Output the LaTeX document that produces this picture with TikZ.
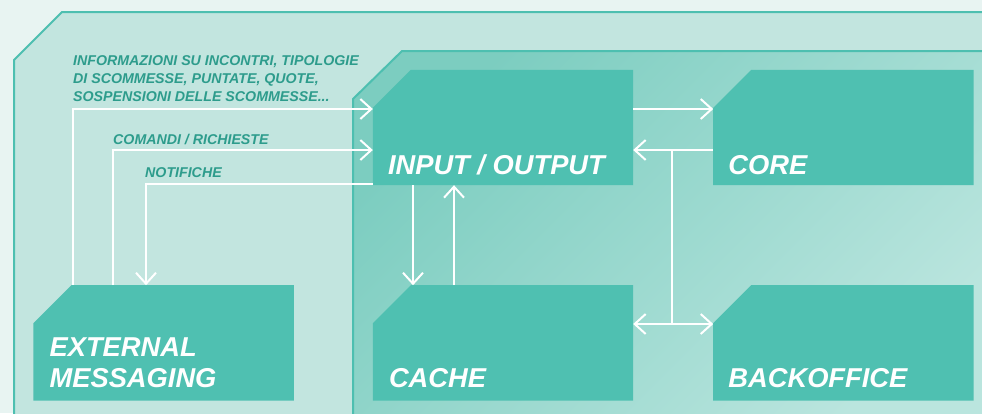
\documentclass[tikz,border=0pt]{standalone}
\usepackage{fontspec}
\setsansfont{Liberation Sans}
\usetikzlibrary{arrows.meta, positioning}

\definecolor{pagebg}{RGB}{232,244,242}
\definecolor{outerbg}{RGB}{194,229,223}
\definecolor{panelline}{RGB}{77,191,176}
\definecolor{innerdark}{RGB}{124,205,192}
\definecolor{innerlight}{RGB}{186,229,222}
\definecolor{boxfill}{RGB}{79,192,177}
\definecolor{labeltext}{RGB}{45,156,140}

\tikzset{
  barb/.tip={Straight Barb[length=11pt, width=20pt]},
  block/.style={minimum width=260pt, minimum height=115pt, inner sep=0pt},
  blocktext/.style={anchor=south west, inner sep=0pt, text depth=0pt, align=left,
    text=white, font=\sffamily\bfseries\itshape\fontsize{27.3}{31}\selectfont},
  flowtext/.style={anchor=south west, inner sep=0pt, text depth=0pt, align=left,
    text=labeltext, font=\sffamily\bfseries\itshape\fontsize{14.2}{18}\selectfont},
  flow/.style={draw=white, line width=2pt, -barb},
}

\newcommand{\chamferfill}[1]{%
  \fill[boxfill] ([yshift=-38pt]#1.north west) -- ([xshift=38pt]#1.north west)
    -- (#1.north east) -- (#1.south east) -- (#1.south west) -- cycle;}

\begin{document}
\begin{tikzpicture}[x=1pt, y=-1pt]
  \useasboundingbox (0,0) rectangle (982,413);
  \clip (0,0) rectangle (982,413);

  % Panels
  \fill[pagebg] (0,0) rectangle (982,413);
  \filldraw[fill=outerbg, draw=panelline, line width=2pt]
    (14,420) -- (14,60) -- (62,12) -- (990,12) -- (990,420) -- cycle;
  \shade[top color=innerdark, bottom color=innerlight, shading angle=45]
    (353,420) -- (353,99) -- (402,51) -- (990,51) -- (990,420) -- cycle;
  \draw[panelline, line width=2pt] (353,420) -- (353,99) -- (402,51) -- (990,51);

  % Blocks
  \node[block] (io) at (503,127.5) {};
  \node[block, right=80pt of io] (core) {};
  \node[block, below=100pt of io] (cache) {};
  \node[block, right=80pt of cache] (back) {};
  \node[block, left=79pt of cache] (ext) {};
  \foreach \b in {io, core, cache, back, ext} {
    \chamferfill{\b}
  }

  % Block labels
  \node[blocktext] (iolabel) at ([xshift=15pt, yshift=11pt]io.south west) {INPUT / OUTPUT};
  \node[blocktext] (corelabel) at ([xshift=15pt, yshift=11pt]core.south west) {CORE};
  \node[blocktext] (cachelabel) at ([xshift=16pt, yshift=13pt]cache.south west) {CACHE};
  \node[blocktext] (backlabel) at ([xshift=15pt, yshift=13pt]back.south west) {BACKOFFICE};
  \node[blocktext] (extlabel) at ([xshift=16pt, yshift=13pt]ext.south west) {EXTERNAL\\MESSAGING};

  % Flow labels
  \node[flowtext] (infolabel) at (73,102)
    {INFORMAZIONI SU INCONTRI, TIPOLOGIE\\DI SCOMMESSE, PUNTATE, QUOTE,\\SOSPENSIONI DELLE SCOMMESSE...};
  \node[flowtext] (cmdlabel) at (113,145) {COMANDI / RICHIESTE};
  \node[flowtext] (notelabel) at (145,178) {NOTIFICHE};

  % Connectors
  \coordinate (infobend) at (73,109);
  \coordinate (cmdbend) at (113,150);
  \coordinate (notebend) at (146,184);
  \coordinate (junction) at (672,150);
  \coordinate (tap) at (672,324);

  \draw[flow] (infobend |- ext.north) -- (infobend) -- (infobend -| io.west);
  \draw[flow] (cmdbend |- ext.north) -- (cmdbend) -- (cmdbend -| io.west);
  \draw[flow] (notebend -| io.west) -- (notebend) -- (notebend |- ext.north);

  \draw[flow] (io.east |- infobend) -- (core.west |- infobend);
  \draw[flow] (core.west |- cmdbend) -- (io.east |- cmdbend);
  \draw[white, line width=2pt] (junction) -- (tap);
  \draw[flow, barb-barb] (cache.east |- tap) -- (back.west |- tap);

  \draw[flow] ([xshift=-90pt]io.south) -- ([xshift=-90pt]cache.north);
  \draw[flow] ([xshift=-49pt]cache.north) -- ([xshift=-49pt]io.south);
\end{tikzpicture}
\end{document}
